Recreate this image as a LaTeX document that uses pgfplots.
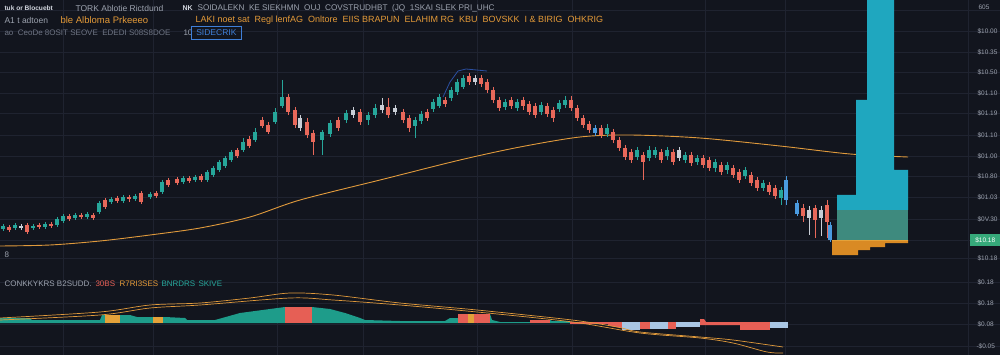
\documentclass[border=0pt]{standalone}
\usepackage{pgfplots}
\pgfplotsset{compat=1.18}
\usepackage{pgfplotstable}
\usepackage{fontspec}
\setmainfont{Liberation Sans}
\definecolor{bg}{HTML}{12151E}
\definecolor{gridc}{HTML}{1F2330}
\definecolor{upc}{HTML}{26A69A}
\definecolor{dnc}{HTML}{E8685A}
\definecolor{ltc}{HTML}{C9CED6}
\definecolor{bluec}{HTML}{4A9BE0}
\definecolor{ma}{HTML}{E09A3C}
\definecolor{cyanv}{HTML}{1FA7BF}
\definecolor{greenv}{HTML}{3E8A7E}
\definecolor{orangev}{HTML}{D98A24}
\definecolor{txtgrey}{HTML}{9CA2AE}
\definecolor{txtwhite}{HTML}{D4D8E0}
\definecolor{txtdim}{HTML}{6E7483}
\definecolor{txtorange}{HTML}{E49A38}
\definecolor{boxblue}{HTML}{3F7FD8}
\definecolor{greenlab}{HTML}{36A97A}
\definecolor{hteal}{HTML}{1E9C8A}
\definecolor{hred}{HTML}{E65F55}
\definecolor{hlblue}{HTML}{A9C6E4}
\definecolor{horange}{HTML}{E4A23A}
\definecolor{trend}{HTML}{2B4FA0}

% columns: x, body top, body bottom, wick top, wick bottom (picture rows, top = 0)
\pgfplotstableread{
x bt bb wt wb
3 226 229 224 231
15 225 228 223 230
33 226 228 224 230
45 224 227 222 229
57 219 225 217 227
63 216 221 214 223
75 215 218 213 220
87 214 217 212 219
99 203 212 201 214
111 199 202 197 204
123 197 201 195 203
135 196 199 194 201
150 194 197 192 199
162 182 192 180 194
183 178 182 176 184
195 177 180 175 182
207 172 180 170 182
213 168 175 166 177
219 162 170 160 172
225 158 166 156 168
231 152 160 150 162
243 142 150 138 152
255 132 140 128 142
275 112 122 108 124
282 97 106 80 108
322 132 140 130 155
330 123 134 120 137
346 113 120 110 123
368 115 120 112 125
375 108 115 104 118
415 120 126 117 138
421 114 121 111 124
433 102 109 99 112
439 97 106 94 108
451 90 98 87 101
457 82 92 79 95
463 78 87 75 89
505 102 107 99 110
517 102 108 99 111
541 105 112 102 115
559 103 109 100 112
565 100 105 96 108
607 128 134 124 137
637 150 157 147 160
649 150 158 146 161
655 150 155 147 158
667 150 156 147 160
685 155 160 152 163
697 158 162 155 165
715 162 168 159 172
727 165 170 162 174
745 170 176 167 179
763 183 188 180 191
781 190 198 187 205
}\upc

\pgfplotstableread{
x bt bb wt wb
9 227 230 225 232
27 225 232 223 234
39 225 227 223 229
51 224 226 222 228
69 216 219 214 221
81 215 217 213 219
93 215 218 213 220
105 200 207 198 209
117 198 201 196 203
129 197 199 195 202
141 193 202 191 204
156 193 196 191 198
168 180 185 178 187
177 179 183 177 185
189 178 181 176 183
201 176 180 174 182
237 150 156 148 158
249 139 146 136 148
262 120 126 117 128
268 125 132 122 134
288 97 112 94 115
295 110 125 107 128
307 122 135 118 138
313 133 142 130 155
338 120 128 117 131
360 112 122 109 125
388 107 115 98 118
403 112 120 109 123
409 118 128 115 132
427 112 118 109 121
445 100 104 97 107
469 76 82 73 85
481 78 84 75 87
487 82 90 79 93
493 90 100 87 103
499 100 108 97 111
511 100 106 97 109
523 100 106 97 110
529 104 112 101 115
535 106 115 103 118
547 106 114 103 117
553 110 118 107 122
571 100 108 96 111
577 108 118 105 121
583 118 125 115 128
589 124 130 121 133
601 128 135 125 138
613 132 140 129 143
619 140 148 137 151
625 148 157 145 160
631 152 160 149 163
643 155 162 152 180
661 152 160 149 163
673 152 162 149 165
691 155 163 152 166
703 158 165 155 168
709 160 168 157 171
721 165 172 162 175
733 168 175 165 178
739 172 180 169 183
751 175 183 172 186
757 180 188 177 191
769 185 192 182 195
775 188 196 185 199
803 208 216 204 222
815 208 220 205 238
827 205 222 200 238
}\dnc

\pgfplotstableread{
x bt bb wt wb
21 226 228 224 230
300 118 128 115 131
353 110 115 107 118
382 105 110 98 113
395 108 112 105 115
475 78 82 75 85
679 150 158 147 161
809 210 218 206 235
821 210 218 206 236
}\ltc

\pgfplotstableread{
x bt bb wt wb
595 128 133 125 136
786 180 200 176 205
797 203 214 200 216
830 225 240 222 242
}\bluec

\newcommand{\candles}[2]{%
  \addplot[draw=none, mark=none, forget plot,
    error bars/.cd, y dir=plus, y explicit, error mark=none,
    error bar style={line width=0.7pt, draw=#2}]
    table[x=x, y=wt, y error plus expr=\thisrow{wb}-\thisrow{wt}] {#1};
  \addplot[draw=none, mark=none, forget plot,
    error bars/.cd, y dir=plus, y explicit, error mark=none,
    error bar style={line width=4.3pt, draw=#2}]
    table[x=x, y=bt, y error plus expr=\thisrow{bb}-\thisrow{bt}] {#1};
}

\begin{document}
\begin{tikzpicture}
\begin{axis}[
  scale only axis, width=1000pt, height=355pt,
  xmin=0, xmax=1000, ymin=0, ymax=355, y dir=reverse,
  axis background/.style={fill=bg},
  axis line style={draw=none},
  major tick length=0pt,
  xtick={63,153,277,363,477,572,705,785,968},
  ytick={10,31,52,72,93,113,135,156,176,197,219,240,258,282,303,324,346},
  xticklabels={}, yticklabels={},
  grid=major, major grid style={draw=gridc, line width=0.6pt},
  clip=false,
  every node/.append style={inner sep=0pt},
]
% moving average
\addplot[draw=ma, line width=0.9pt, smooth] coordinates {
(0,246) (50,245) (100,241) (150,235) (200,228) (250,217) (300,200) (380,180)
(460,160) (520,147) (580,137) (630,135) (700,138) (780,146) (850,154) (908,157)};

% volume profile
\addplot[fill=cyanv, draw=none] coordinates {
(867,0) (894,0) (894,170) (908,170) (908,210) (837,210) (837,195) (856,195) (856,100) (867,100)};
\addplot[fill=greenv, draw=none] coordinates {(837,210) (908,210) (908,240) (837,240)};
\addplot[fill=orangev, draw=none] coordinates {
(832,240) (908,240) (908,243) (885,243) (885,247) (870,247) (870,250) (858,250) (858,255) (832,255)};
\addplot[draw=horange, line width=0.8pt] coordinates {(832,240) (908,240)};

% trend line
\addplot[draw=trend, line width=0.8pt] coordinates {(443,97) (450,82) (458,71) (466,69) (487,71)};

% candles
\candles{\upc}{upc}
\candles{\dnc}{dnc}
\candles{\ltc}{ltc}
\candles{\bluec}{bluec}

% lower panel histogram
\addplot[fill=hteal, draw=none] coordinates {
(0,323) (0,318) (30,318) (32,320) (100,320) (102,315) (130,315) (137,317) (165,317)
(185,318) (187,320) (215,320) (240,313) (285,307) (312,307) (330,309) (345,313)
(360,318) (365,320) (400,321) (445,321) (450,318) (458,318) (458,314) (490,314)
(492,320) (500,322) (530,322) (535,320) (550,320) (552,321) (570,321) (570,323)};
\addplot[fill=horange, draw=none] coordinates {(105,323) (105,315) (120,315) (120,323)};
\addplot[fill=horange, draw=none] coordinates {(153,323) (153,317) (163,317) (163,323)};
\addplot[fill=hred, draw=none] coordinates {(285,323) (285,307) (312,307) (312,323)};
\addplot[fill=hred, draw=none] coordinates {(458,323) (458,314) (490,314) (490,323)};
\addplot[fill=horange, draw=none] coordinates {(468,323) (468,314) (474,314) (474,323)};
\addplot[fill=hred, draw=none] coordinates {(530,323) (530,320) (550,320) (550,323)};
\addplot[fill=hred, draw=none] coordinates {(570,322) (610,322) (610,324) (570,324)};
\addplot[fill=hred, draw=none] coordinates {(605,322) (622,322) (622,328) (610,326)};
\addplot[fill=hlblue, draw=none] coordinates {(622,322) (640,322) (640,330) (622,330)};
\addplot[fill=hred, draw=none] coordinates {(640,322) (650,322) (650,329) (640,329)};
\addplot[fill=hlblue, draw=none] coordinates {(650,322) (668,322) (668,329) (650,329)};
\addplot[fill=hred, draw=none] coordinates {(668,322) (676,322) (676,329) (668,329)};
\addplot[fill=hlblue, draw=none] coordinates {(676,322) (700,322) (700,327) (676,327)};
\addplot[fill=hred, draw=none] coordinates {(700,319) (704,319) (706,322) (740,322) (740,325) (700,325)};
\addplot[fill=hred, draw=none] coordinates {(740,322) (770,322) (770,330) (740,330)};
\addplot[fill=hlblue, draw=none] coordinates {(770,322) (788,322) (788,328) (770,328)};

% lower panel lines
\addplot[draw=ma, line width=0.7pt, smooth] coordinates {
(0,318) (100,312) (150,305) (200,303) (250,298) (290,293) (333,295) (400,303)
(477,310) (572,320) (617,327) (640,332) (700,337) (733,340) (783,347)};
\addplot[draw=ma, line width=0.7pt, smooth] coordinates {
(0,320) (100,315) (150,308) (200,305) (290,298) (333,300) (400,305)
(477,312) (573,322) (640,333) (700,338) (733,343) (767,352) (783,353)};

% header texts
\node[anchor=west, text=txtwhite, font=\fontsize{6.6}{7}\selectfont\bfseries] at (1,8) {tuk or Blocuebt};
\node[anchor=west, text=txtgrey, font=\fontsize{8.5}{9}\selectfont] at (72,8) {TORK Ablotie Rictdund};
\node[anchor=west, text=txtwhite, font=\fontsize{7}{8}\selectfont\bfseries] at (179,8) {NK};
\node[anchor=west, text=txtgrey, font=\fontsize{8.2}{9}\selectfont] at (194,8) {SOIDALEKN \ KE SIEKHMN \ OUJ \ COVSTRUDHBT \ (JQ \ 1SKAI SLEK PRI\_UHC};
\node[anchor=west, text=txtgrey, font=\fontsize{8.5}{9}\selectfont] at (1,20) {A1 t adtoen};
\node[anchor=west, text=txtorange, font=\fontsize{9.5}{10}\selectfont] at (57,20) {ble Albloma Prkeeeo};
\node[anchor=west, text=txtorange, font=\fontsize{9}{10}\selectfont] at (192,20) {LAKI noet sat \ Regl lenfAG \ Onltore \ EIIS BRAPUN \ ELAHIM RG \ KBU \ BOVSKK \ I \& BIRIG \ OHKRIG};
\node[anchor=west, text=txtdim, font=\fontsize{8}{9}\selectfont] at (1,33) {ao \ CeoDe 8OSIT SEOVE \ EDEDI S08S8DOE};
\node[anchor=west, text=txtgrey, font=\fontsize{8}{9}\selectfont] at (180,33) {10};
\node[anchor=west, text=boxblue, draw=boxblue, line width=0.6pt, inner xsep=5pt, minimum height=13pt, font=\fontsize{8.5}{9}\selectfont] at (191,33) {SIDECRIK};

% lower panel legend
\begin{scope}[every node/.append style={font=\fontsize{8}{9}\selectfont, anchor=west}]
\node[text=txtgrey] at (1,255) {8};
\node[text=txtgrey] at (1,284) {CONKKYKRS B2SUDD.};
\node[text=hred] at (92,284) {30BS};
\node[text=txtorange] at (116,284) {R7RI3SES};
\node[text=upc] at (158,284) {BNRDRS};
\node[text=upc] at (195,284) {SKIVE};
\end{scope}

% right price scale
\begin{scope}[every node/.append style={font=\fontsize{6.5}{7}\selectfont, text=txtgrey, anchor=west}]
\node at (975,7) {605};
\node at (974,31) {\$10.00};
\node at (974,52) {\$10.35};
\node at (974,72) {\$10.50};
\node at (974,93) {\$01.10};
\node at (974,113) {\$01.19};
\node at (974,135) {\$01.10};
\node at (974,156) {\$01.00};
\node at (974,176) {\$10.80};
\node at (974,197) {\$01.03};
\node at (974,219) {\$0V.30};
\node at (974,258) {\$10.18};
\node at (974,282) {\$0.18};
\node at (974,303) {\$0.18};
\node at (974,324) {\$0.08};
\node at (973,346) {-\$0.05};
\end{scope}
\node[anchor=west, fill=greenlab, text=white, minimum width=30pt, minimum height=11pt, inner xsep=2pt, font=\fontsize{6.5}{7}\selectfont] at (970,240) {\$10.18};
\end{axis}
\pgfresetboundingbox
\useasboundingbox (current axis.south west) rectangle (current axis.north east);
\end{tikzpicture}
\end{document}
